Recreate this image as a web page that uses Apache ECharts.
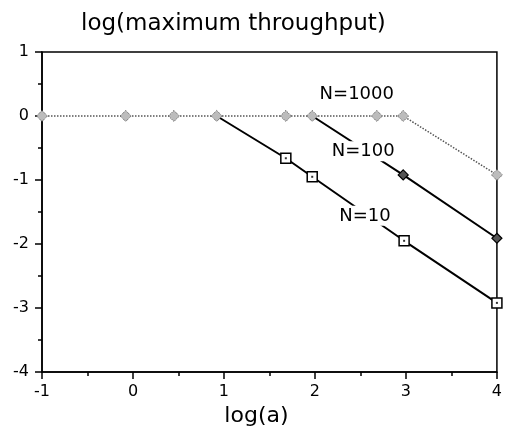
<!DOCTYPE html>
<html>
<head>
<meta charset="utf-8">
<script src="https://cdn.jsdelivr.net/npm/echarts@6/dist/echarts.min.js"></script>
<style>
    html, body { margin: 0; padding: 0; background: #fff; }
    #chart { width: 505px; height: 443px; }
</style>
</head>
<body>
<div id="chart"></div>
<script>
//---数据定义区----------------------------------
var xTicks = [-1, 0, 1, 2, 3, 4];
var yTicks = [-4, -3, -2, -1, 0, 1];

// N=1000
var n1000X = [-1, -0.08, 0.45, 0.92, 1.68, 1.97, 2.68, 2.97, 4.0];
var n1000Y = [0, 0, 0, 0, 0, 0, 0, 0, -0.92];

// N=100 (first point is the branch off the N=1000 line)
var n100X = [1.97, 2.97, 4.0];
var n100Y = [0, -0.92, -1.91];

// N=10 (first point is the branch off the N=1000 line)
var n10X = [0.92, 1.68, 1.97, 2.98, 4.0];
var n10Y = [0, -0.66, -0.95, -1.95, -2.92];

var seriesNames = ['N=1000', 'N=100', 'N=10'];
//----------------------------------------------

//---工具函数----------------------------------
var FONT = 'DejaVu Sans';

function pairs(xs, ys, skipFirst) {
    return xs.map(function (x, i) {
        var item = { value: [x, ys[i]] };
        if (skipFirst && i === 0) {
            item.symbol = 'none';
        }
        return item;
    });
}

function tag(text, coord) {
    return {
        symbol: 'rect',
        symbolSize: 0,
        silent: true,
        data: [{
            coord: coord,
            label: {
                show: true,
                position: 'inside',
                formatter: text,
                fontFamily: FONT,
                fontSize: 18,
                color: '#000',
                backgroundColor: '#fff',
                padding: [1, 2]
            }
        }]
    };
}
//----------------------------------------------

//---图表初始化----------------------------------
var chart = echarts.init(document.getElementById('chart'), null, { renderer: 'canvas' });

var option = {
    animation: false,
    backgroundColor: '#fff',
    title: {
        text: 'log(maximum throughput)',
        left: 76,
        top: 8,
        textStyle: { fontFamily: FONT, fontSize: 23, fontWeight: 'normal', color: '#000' }
    },
    grid: {
        left: 42, right: 8, top: 52, bottom: 71,
        show: true, borderColor: '#000', borderWidth: 1.5
    },
    xAxis: {
        type: 'value',
        min: xTicks[0],
        max: xTicks[xTicks.length - 1],
        interval: 1,
        name: 'log(a)',
        nameLocation: 'middle',
        nameGap: 32,
        nameTextStyle: { fontFamily: FONT, fontSize: 22, color: '#000', padding: [0, 26, 0, 0] },
        axisLine: { onZero: false, lineStyle: { color: '#000', width: 1.5 } },
        axisTick: { length: 7, lineStyle: { color: '#000', width: 1.5 } },
        minorTick: { show: true, splitNumber: 2, length: 4, lineStyle: { color: '#000', width: 1.5 } },
        splitLine: { show: false },
        axisLabel: { margin: 12, fontFamily: FONT, fontSize: 16, color: '#000' }
    },
    yAxis: {
        type: 'value',
        min: yTicks[0],
        max: yTicks[yTicks.length - 1],
        interval: 1,
        axisLine: { show: true, onZero: false, lineStyle: { color: '#000', width: 1.5 } },
        axisTick: { show: true, length: 7, lineStyle: { color: '#000', width: 1.5 } },
        minorTick: { show: true, splitNumber: 2, length: 4, lineStyle: { color: '#000', width: 1.5 } },
        splitLine: { show: false },
        axisLabel: { margin: 13, fontFamily: FONT, fontSize: 16, color: '#000' }
    },
    series: [
        {
            name: seriesNames[2],
            type: 'line',
            z: 2,
            clip: false,
            data: pairs(n10X, n10Y, true),
            symbol: 'rect',
            symbolSize: 10,
            itemStyle: { color: '#fff', borderColor: '#000', borderWidth: 1.5 },
            lineStyle: { color: '#000', width: 2 },
            markPoint: tag(seriesNames[2], [2.55, -1.56])
        },
        {
            // centre dots of the N=10 squares
            type: 'scatter',
            z: 3,
            clip: false,
            silent: true,
            data: pairs(n10X, n10Y, true),
            symbol: 'rect',
            symbolSize: 2,
            itemStyle: { color: '#000' }
        },
        {
            name: seriesNames[1],
            type: 'line',
            z: 4,
            clip: false,
            data: pairs(n100X, n100Y, true),
            symbol: 'diamond',
            symbolSize: 10,
            itemStyle: { color: '#555', borderColor: '#000', borderWidth: 1.2 },
            lineStyle: { color: '#000', width: 2 },
            markPoint: tag(seriesNames[1], [2.53, -0.55])
        },
        {
            name: seriesNames[0],
            type: 'line',
            z: 5,
            clip: false,
            data: pairs(n1000X, n1000Y, false),
            symbol: 'diamond',
            symbolSize: 11,
            itemStyle: { color: '#bcbcbc', borderColor: '#555', borderWidth: 1, borderType: 'dotted' },
            lineStyle: { color: '#555', width: 1.5, type: 'dotted' },
            markPoint: tag(seriesNames[0], [2.46, 0.34])
        }
    ]
};

chart.setOption(option);
//----------------------------------------------
</script>
</body>
</html>
